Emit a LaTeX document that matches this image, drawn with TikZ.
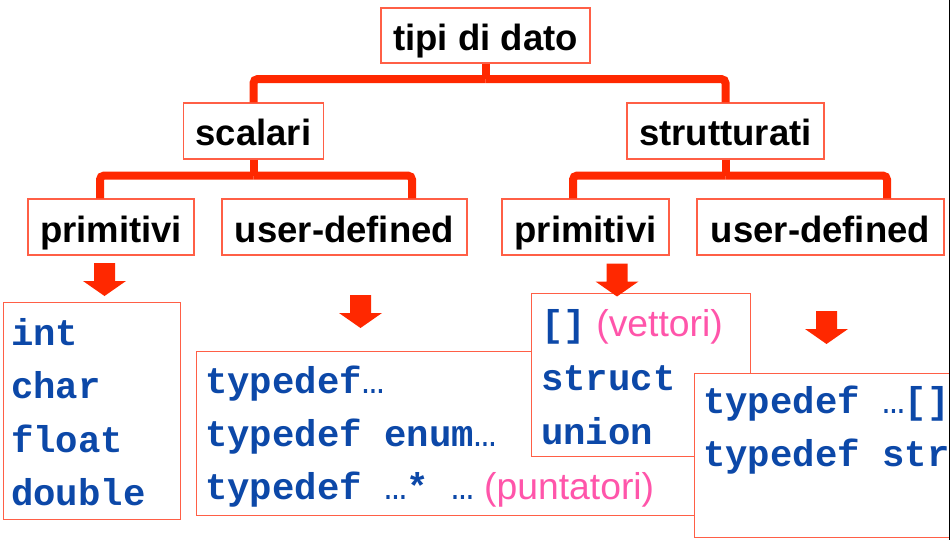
\documentclass[tikz,border=0pt]{standalone}
\usepackage{fontspec}
\setmainfont{Liberation Sans}
\setmonofont{Liberation Mono}
\usetikzlibrary{positioning}
\definecolor{barred}{RGB}{255,40,0}
\definecolor{edgered}{RGB}{255,95,70}
\definecolor{codeblue}{RGB}{12,72,168}
\definecolor{notepink}{RGB}{255,85,170}
\newcommand{\code}[1]{{\ttfamily\bfseries\color{codeblue}#1}}
\newcommand{\note}[1]{{\color{notepink}#1}}
\newcommand{\dotsmono}{{\mdseries …}}

\begin{document}
\begin{tikzpicture}[x=1pt,y=-1pt,
        box/.style={rectangle,draw=edgered,line width=1.2pt,fill=white,inner sep=0pt,
          font=\fontsize{36.5}{40}\selectfont\bfseries,text height=33pt,text depth=3pt},
        listbox/.style={rectangle,draw=edgered,line width=1.2pt,fill=white,
          anchor=north west,inner sep=0pt},
        row/.style={anchor=base west,inner sep=0pt,font=\fontsize{37.3}{40}\selectfont},
        branch/.style={draw=barred,line width=8pt,rounded corners=4pt},
        downarrow/.pic={\fill[barred] (-10.5,0) -- (10.5,0) -- (10.5,18) -- (21.5,18)
          -- (0,33) -- (-21.5,18) -- (-10.5,18) -- cycle;}]
  \useasboundingbox (0,0) rectangle (952,540);
  \begin{scope}
    \clip (0,0) rectangle (949,540);
    % tree of types
    \node[box,minimum width=209,minimum height=55] (root) at (485.5,35.5) {tipi di dato};
    \node[box,minimum width=140,minimum height=56] (scal) at (253.5,131) {scalari};
    \node[box,minimum width=197,minimum height=56] (strut) at (725.5,131) {strutturati};
    \node[box,minimum width=166,minimum height=56] (primL) at (111,227) {primitivi};
    \node[box,minimum width=245,minimum height=56] (userL) at (344.5,227) {user-defined};
    \node[box,minimum width=167,minimum height=56] (primR) at (585.5,227) {primitivi};
    \node[box,minimum width=247,minimum height=56] (userR) at (820.5,227) {user-defined};
    \draw[branch] (root.south) -- ++(0,15.5) coordinate (j0);
    \draw[branch] (j0) -| (scal.north);
    \draw[branch] (j0) -| (strut.north);
    \draw[branch] (scal.south) -- ++(0,16) coordinate (j1);
    \draw[branch] (j1) -| ([xshift=-11pt]primL.north);
    \draw[branch] (j1) -| ([xshift=67.5pt]userL.north);
    \draw[branch] (strut.south) -- ++(0,16) coordinate (j2);
    \draw[branch] (j2) -| ([xshift=-12.5pt]primR.north);
    \draw[branch] (j2) -| ([xshift=66.5pt]userR.north);
    % lists
    \node[listbox,minimum width=177,minimum height=217] (intbox) at (3,302) {};
    \foreach \txt [count=\i from 0] in {int,char,float,double}
      \node[row] (int\i) at (11,345+53.5*\i) {\code{\txt}};
    \node[listbox,minimum width=524,minimum height=164] (udbox) at (196,351) {};
    \node[row] (ud0) at (205,393.5) {\code{typedef\dotsmono}};
    \node[row] (ud1) at (205,446.5) {\code{typedef enum\dotsmono}};
    \node[row] (ud2) at (205,499.5) {\code{typedef \dotsmono* \dotsmono}\ \note{(puntatori)}};
    \node[listbox,minimum width=219,minimum height=163] (stbox) at (531,293) {};
    \node[row] (st0) at (541,336) {\code{[]}\ \note{(vettori)}};
    \node[row] (st1) at (541,390) {\code{struct}};
    \node[row] (st2) at (541,444) {\code{union}};
    \node[listbox,minimum width=280,minimum height=164] (tdbox) at (694,373) {};
    \node[row] (td0) at (703,413) {\code{typedef \dotsmono[]}};
    \node[row] (td1) at (703,466) {\code{typedef struct}};
    % block arrows
    \pic (arrPrimL) at (104.5,263) {downarrow};
    \pic (arrUserL) at (360.5,295) {downarrow};
    \pic (arrPrimR) at (617,263.5) {downarrow};
    \pic (arrUserR) at (826.5,311) {downarrow};
  \end{scope}
  \draw[line width=1.5pt] (949.5,0) -- (949.5,540);
\end{tikzpicture}
\end{document}
